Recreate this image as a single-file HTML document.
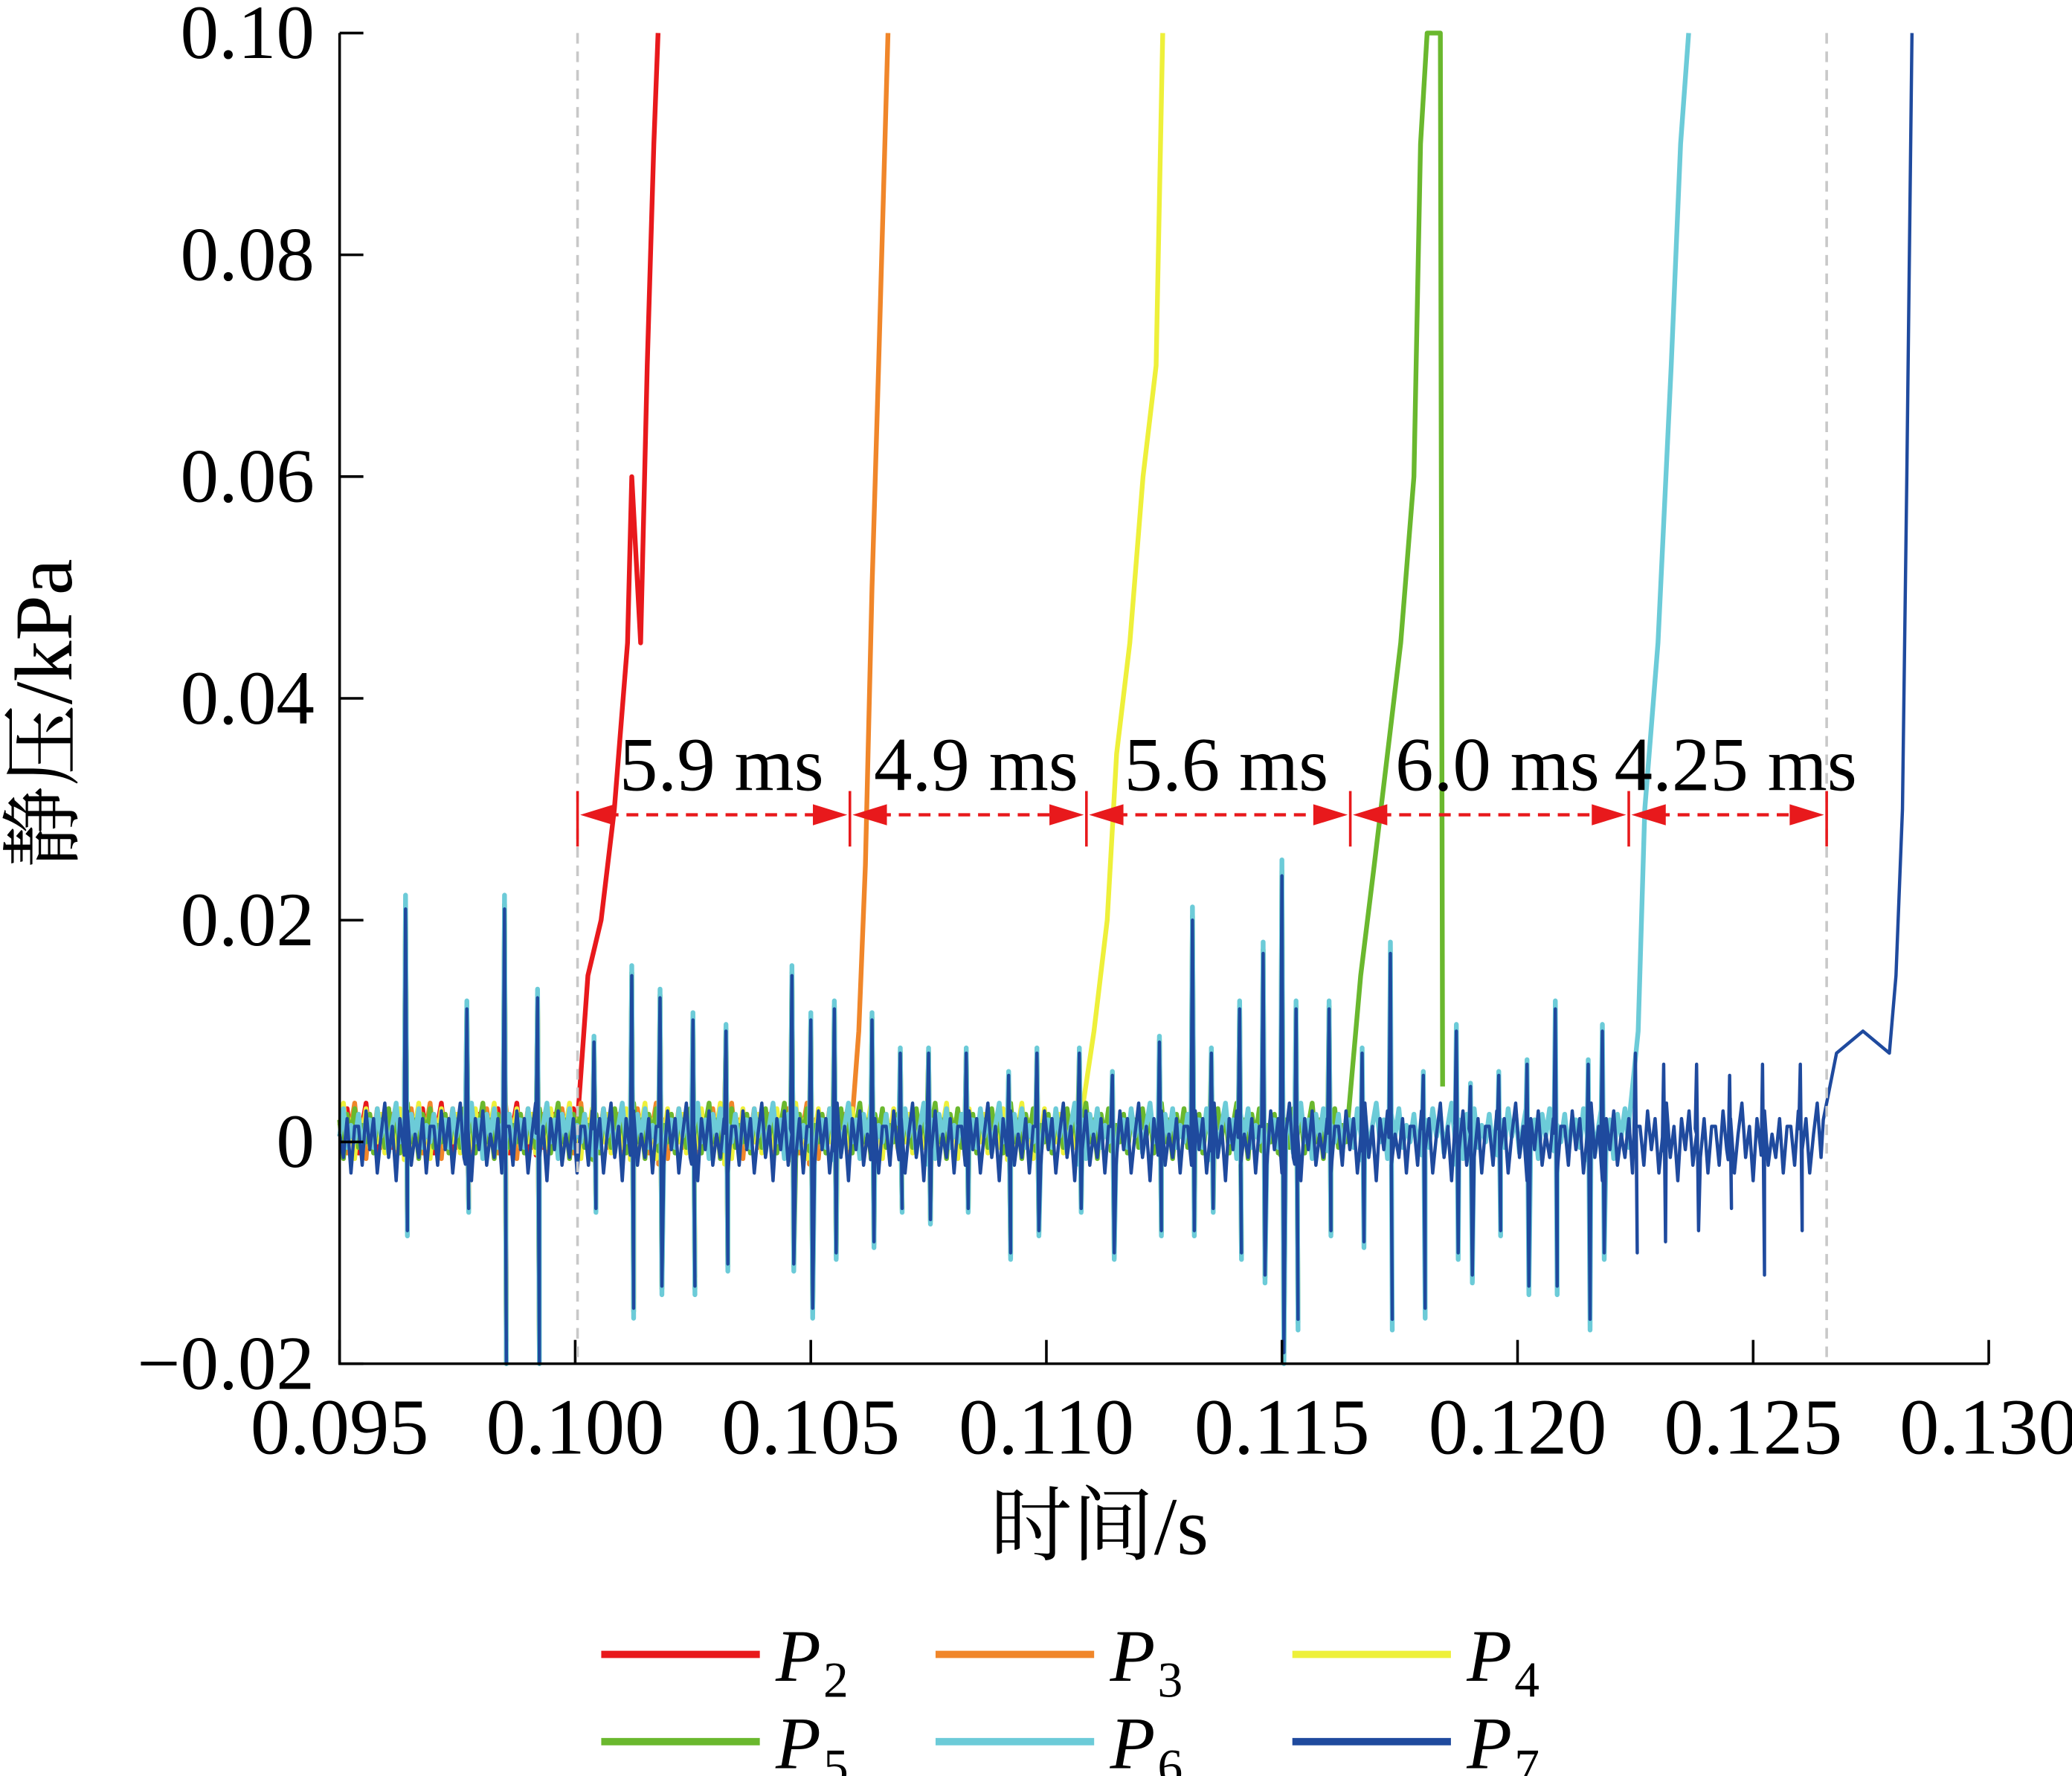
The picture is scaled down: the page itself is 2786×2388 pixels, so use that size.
<!DOCTYPE html>
<html><head><meta charset="utf-8"><style>
html,body{margin:0;padding:0;background:#fff;}
svg{display:block;}
text{font-family:"Liberation Serif","Noto Serif CJK SC",serif;fill:#000;}
</style></head><body>
<svg id="chart" width="2786" height="2388" viewBox="0 0 1568 1344" xmlns="http://www.w3.org/2000/svg">
<g id="series"></g>
<g id="axes"></g>
<g id="annot"></g>
<g id="legend"></g>
</svg>
<script>
const xTicks=[0.095,0.100,0.105,0.110,0.115,0.120,0.125,0.130];
const xTickLabels=["0.095","0.100","0.105","0.110","0.115","0.120","0.125","0.130"];
const yTicks=[-0.02,0,0.02,0.04,0.06,0.08,0.10];
const yTickLabels=["\u22120.02","0","0.02","0.04","0.06","0.08","0.10"];
const spikeT=[0.0964,0.0977,0.0985,0.0992,0.1004,0.1012,0.1018,0.1025,0.1032,0.1046,0.1050,0.1055,0.1063,0.1069,0.1075,0.1083,0.1092,0.1098,0.1107,0.1114,0.1124,0.1131,0.1135,0.1141,0.1146,0.1150,0.1153,0.1160,0.1167,0.1173,0.1180,0.1187,0.1190,0.1196,0.1202,0.1208,0.1215,0.1218,0.1225,0.1231,0.1238,0.1245,0.1252,0.1260,0.1267];
const spikeUp=[0.021,0.012,0.021,0.013,0.009,0.015,0.013,0.011,0.010,0.015,0.011,0.012,0.011,0.008,0.008,0.008,0.006,0.008,0.008,0.006,0.009,0.020,0.008,0.012,0.017,0.024,0.012,0.012,0.008,0.017,0.006,0.010,0.005,0.006,0.007,0.012,0.007,0.010,0.008,0.007,0.007,0.006,0.007,0.007,0.008];
const spikeDown=[-0.008,-0.006,-0.020,-0.020,-0.006,-0.015,-0.013,-0.013,-0.011,-0.011,-0.015,-0.010,-0.009,-0.006,-0.007,-0.006,-0.010,-0.008,-0.006,-0.010,-0.008,-0.008,-0.006,-0.010,-0.012,-0.019,-0.016,-0.008,-0.009,-0.016,-0.015,-0.010,-0.012,-0.008,-0.013,-0.013,-0.016,-0.010,-0.010,-0.009,-0.008,-0.006,-0.012,-0.008,-0.008];
const jitter=[0.002,-0.003,0.004,-0.001,0.003,-0.004,0.001,0.005,-0.002,0.002,-0.005,0.003,-0.001,0.004,-0.003,0.001,-0.002,0.003,-0.004,0.002];
const onsetT=[0.10005,0.10588,0.11073,0.1164,0.12237,0.12649];
const riseT=[
[0.10027,0.10055,0.10083,0.10111,0.1012,0.10139,0.10153,0.10167,0.10176],
[0.10602,0.10616,0.1063,0.10644,0.10664],
[0.11101,0.11129,0.11149,0.11177,0.11205,0.11233,0.11247],
[0.11667,0.11696,0.11724,0.11752,0.1178,0.11794,0.11808,0.11822,0.11836,0.11841],
[0.12256,0.1227,0.12298,0.12326,0.12346,0.12363],
[0.12677,0.12733,0.12789,0.12803,0.12817,0.12826,0.12837]];
const riseV=[
[0.015,0.02,0.03,0.045,0.06,0.045,0.07,0.09,0.1],
[0.01,0.025,0.05,0.07,0.1],
[0.01,0.02,0.035,0.045,0.06,0.07,0.1],
[0.015,0.025,0.035,0.045,0.06,0.09,0.1,0.1,0.1,0.005],
[0.01,0.03,0.045,0.07,0.09,0.1],
[0.008,0.01,0.008,0.015,0.03,0.06,0.1]];
const colors=["#e8191c","#f0862a","#eef03a","#6ab82e","#6ccbd8","#1f4a9e"];
const names=["2","3","4","5","6","7"];
const intervalLabels=["5.9 ms","4.9 ms","5.6 ms","6.0 ms","4.25 ms"];
const markT=[0.10005,0.10583,0.11085,0.11645,0.12236,0.12656];

const NS="http://www.w3.org/2000/svg";
const X0=257,X1=1505,Y0=1032,Y1=25;
function sx(t){return X0+(t-0.095)/(0.035)*(X1-X0);}
function sy(v){return Y0-(v+0.02)/0.12*(Y0-Y1);}
function mk(tag,attrs,parent){const e=document.createElementNS(NS,tag);for(const k in attrs)e.setAttribute(k,attrs[k]);parent.appendChild(e);return e;}
const gS=document.getElementById('series'),gA=document.getElementById('axes'),gN=document.getElementById('annot'),gL=document.getElementById('legend');

for(let s=0;s<6;s++){
  const pts=[];let si=0;let j=s*3;
  const scale=s===5?1:0.9+0.04*s;
  for(let t=0.095;t<onsetT[s];t+=0.00008){
    while(si<spikeT.length&&spikeT[si]<t){
      pts.push([spikeT[si]-0.00003,jitter[(j+1)%jitter.length]*0.4]);
      pts.push([spikeT[si],spikeUp[si]*scale]);
      pts.push([spikeT[si]+0.00004,spikeDown[si]*scale]);
      si++;
    }
    pts.push([t,jitter[j%jitter.length]*(s===5?0.7:0.5)+(s<5?0.001:0)]);j++;
  }
  pts.push([onsetT[s],0.002]);
  for(let k=0;k<riseT[s].length;k++)pts.push([riseT[s][k],riseV[s][k]]);
  const d=pts.map((p,i)=>(i?'L':'M')+sx(p[0]).toFixed(1)+' '+sy(Math.max(-0.02,Math.min(0.1,p[1]))).toFixed(1)).join('');
  const path=mk('path',{d:d,fill:'none',stroke:colors[s],'stroke-width':s===5?2.5:3.6,'stroke-linejoin':'round'},gS);
  
  
}

const ax=mk('path',{d:`M${X0} ${Y1}V${Y0}H${X1}`,fill:'none',stroke:'#000','stroke-width':2},gA);

xTicks.forEach((t,i)=>{
  mk('line',{x1:sx(t),x2:sx(t),y1:Y0,y2:Y0-18,stroke:'#000','stroke-width':2},gA);
  const tx=mk('text',{x:sx(t),y:1100,'font-size':60,'text-anchor':'middle'},gA);tx.textContent=xTickLabels[i];
  
});
yTicks.forEach((v,i)=>{
  mk('line',{x1:X0,x2:X0+18,y1:sy(v),y2:sy(v),stroke:'#000','stroke-width':2},gA);
  const tx=mk('text',{x:238,y:sy(v)+19,'font-size':58,'text-anchor':'end'},gA);tx.textContent=yTickLabels[i];
  
});
const xt=mk('text',{x:832,y:1176,'font-size':62,'text-anchor':'middle'},gA);xt.textContent='时间/s';

const yt=mk('text',{x:0,y:0,'font-size':62,'text-anchor':'middle',transform:'translate(54,540) rotate(-90)'},gA);yt.textContent='静压/kPa';


[0.10005,0.12656].forEach(t=>{
  const l=mk('line',{x1:sx(t),x2:sx(t),y1:Y1,y2:Y0,stroke:'#c8c8c8','stroke-width':2,'stroke-dasharray':'8 6'},gN);
  
});
const ay=sy(0.0295);
markT.forEach(t=>{mk('line',{x1:sx(t),x2:sx(t),y1:ay-18,y2:ay+24,stroke:'#e8191c','stroke-width':2},gN);});
for(let i=0;i<5;i++){
  const a=sx(markT[i])+2,b=sx(markT[i+1])-2;
  const l=mk('line',{x1:a+20,x2:b-20,y1:ay,y2:ay,stroke:'#e8191c','stroke-width':2.5,'stroke-dasharray':'9 6'},gN);
  
  mk('path',{d:`M${a} ${ay}L${a+26} ${ay-8}L${a+26} ${ay+8}Z`,fill:'#e8191c'},gN);
  mk('path',{d:`M${b} ${ay}L${b-26} ${ay-8}L${b-26} ${ay+8}Z`,fill:'#e8191c'},gN);
  const tx=mk('text',{x:(a+b)/2+6,y:598,'font-size':58,'text-anchor':'middle'},gN);tx.textContent=intervalLabels[i];
  
}

const lx=[455,708,978],ly=[1252,1318];
for(let s=0;s<6;s++){
  const x=lx[s%3],y=ly[Math.floor(s/3)];
  const g=mk('g',{},gL);
  
  mk('line',{x1:x,x2:x+120,y1:y,y2:y,stroke:colors[s],'stroke-width':5.5},g);
  const tx=mk('text',{x:x+132,y:y+20,'font-size':56,'font-style':'italic'},g);tx.textContent='P';
  const sb=mk('text',{x:x+168,y:y+32,'font-size':38},g);sb.textContent=names[s];
}
</script>
</body></html>
